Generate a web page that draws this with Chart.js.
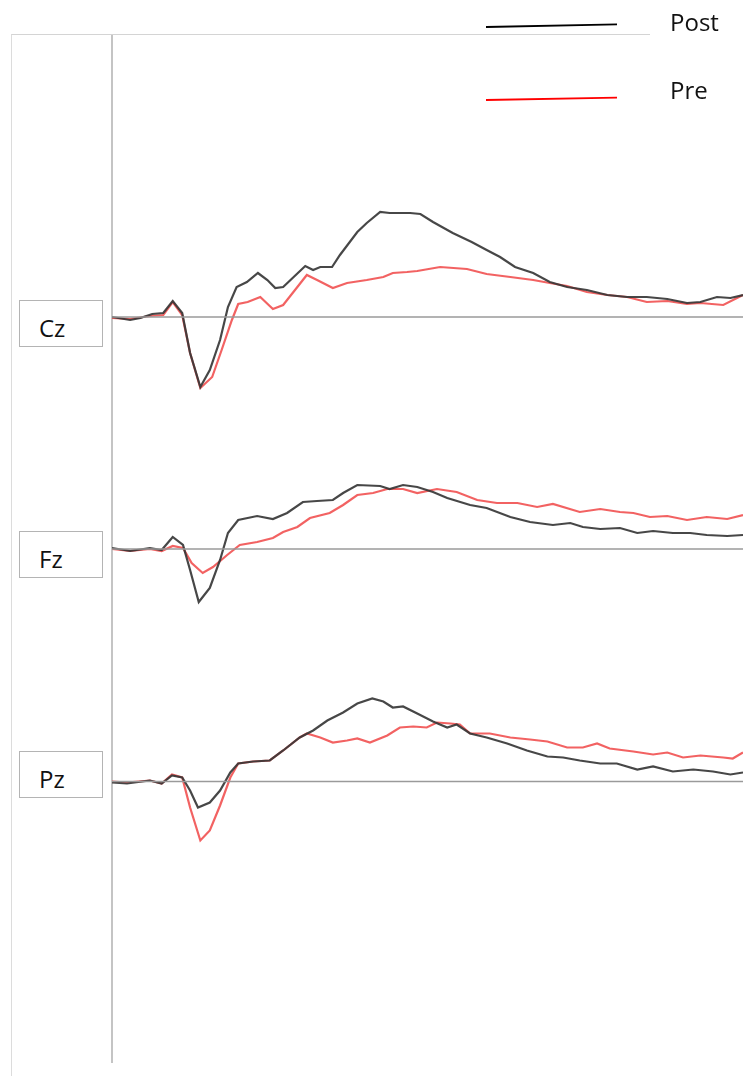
<!DOCTYPE html>
<html>
<head>
<meta charset="utf-8">
<script src="https://cdn.jsdelivr.net/npm/chart.js@4"></script>
<style>
  body { margin: 0; background: #fff; font-family: 'Open Sans', sans-serif; }
  #wrap { position: relative; width: 743px; height: 1076px; overflow: hidden; }
  #erp { position: absolute; left: 0; top: 0; }
  .frame { position: absolute; left: 11px; top: 34px; width: 638px; height: 1060px;
           border-top: 1.5px solid #d4d4d4; border-left: 1.5px solid #dcdcdc; }
  .chan { position: absolute; left: 19px; width: 84px; height: 47px; box-sizing: border-box;
          border: 1.5px solid #b4b4b4; background: #fff; font-size: 24px; line-height: 32px;
          padding: 11px 0 0 19px; color: #111; }
  .leg { position: absolute; left: 670px; font-size: 24px; line-height: 32px; color: #111; }
  #legLines { position: absolute; left: 0; top: 0; }
</style>
</head>
<body>
<div id="wrap">
  <div class="frame"></div>
  <canvas id="erp" width="743" height="1076"></canvas>
  <svg id="legLines" width="743" height="120">
    <line x1="486" y1="27" x2="617" y2="24.3" stroke="#000" stroke-width="1.8"/>
    <line x1="486" y1="100" x2="617" y2="97.7" stroke="#ff0000" stroke-width="1.8"/>
  </svg>
  <div class="leg" style="top:6px">Post</div>
  <div class="leg" style="top:74px">Pre</div>
  <div class="chan" style="top:300px">Cz</div>
  <div class="chan" style="top:531px">Fz</div>
  <div class="chan" style="top:751px">Pz</div>
</div>
<script>
// ERP grand averages, [time ms, amplitude µV]
const czPost = [[-100,0.0],[-77,-0.3],[-64,-0.1],[-49,0.3],[-35,0.4],[-23,1.6],[-11,0.4],[-1,-3.6],[12,-7.0],[24,-5.3],[37,-2.3],[47,1.0],[58,3.0],[71,3.5],[85,4.4],[97,3.7],[107,2.9],[117,3.0],[129,3.9],[145,5.1],[155,4.7],[164,5.0],[179,5.0],[189,6.2],[211,8.5],[223,9.4],[240,10.5],[252,10.4],[278,10.4],[291,10.3],[307,9.5],[332,8.4],[356,7.5],[375,6.7],[392,6.0],[411,5.0],[434,4.4],[455,3.5],[477,3.0],[502,2.7],[528,2.2],[553,2.0],[578,2.0],[604,1.8],[629,1.4],[646,1.5],[667,2.0],[684,1.9],[700,2.2]];
const czPre = [[-100,-0.1],[-77,-0.2],[-52,0.1],[-35,0.2],[-23,1.5],[-11,0.2],[-1,-3.6],[12,-7.1],[27,-6.0],[39,-3.3],[52,-0.3],[60,1.3],[72,1.5],[88,2.0],[104,0.8],[117,1.2],[135,3.0],[147,4.2],[160,3.7],[180,2.9],[198,3.4],[223,3.7],[244,4.0],[256,4.4],[274,4.5],[287,4.6],[316,5.0],[350,4.8],[375,4.3],[405,4.0],[434,3.7],[455,3.4],[477,3.1],[502,2.5],[528,2.2],[553,2.0],[578,1.5],[604,1.6],[629,1.3],[646,1.4],[675,1.2],[700,2.2]];
const fzPost = [[-100,0.1],[-77,-0.2],[-52,0.1],[-37,-0.1],[-23,1.2],[-10,0.4],[-1,-2.1],[10,-5.3],[24,-3.9],[37,-1.1],[47,1.6],[60,2.9],[84,3.3],[104,3.0],[122,3.6],[142,4.7],[160,4.8],[180,4.9],[193,5.6],[211,6.4],[240,6.3],[252,6.0],[269,6.4],[287,6.2],[307,5.7],[325,5.1],[354,4.4],[375,4.1],[405,3.2],[430,2.7],[459,2.4],[481,2.6],[497,2.2],[519,2.0],[544,2.1],[566,1.6],[586,1.8],[611,1.6],[633,1.6],[654,1.4],[680,1.3],[700,1.4]];
const fzPre = [[-100,0.0],[-77,-0.2],[-52,0.0],[-37,-0.2],[-23,0.3],[-10,0.1],[1,-1.4],[15,-2.4],[28,-1.8],[46,-0.6],[62,0.4],[84,0.7],[104,1.1],[117,1.7],[135,2.2],[151,3.1],[176,3.6],[193,4.4],[211,5.4],[231,5.6],[249,6.0],[269,6.0],[287,5.6],[312,6.0],[337,5.7],[363,4.9],[388,4.6],[414,4.6],[439,4.2],[459,4.5],[493,3.7],[519,4.0],[544,3.7],[561,3.6],[582,3.2],[604,3.3],[629,2.9],[654,3.2],[680,3.0],[700,3.4]];
const pzPost = [[-100,-0.1],[-81,-0.2],[-52,0.1],[-37,-0.2],[-24,0.6],[-11,0.4],[-1,-0.9],[9,-2.6],[24,-2.1],[37,-0.9],[50,0.9],[60,1.8],[79,2.0],[100,2.1],[117,3.1],[138,4.4],[155,5.1],[173,6.1],[193,6.9],[211,7.8],[230,8.3],[244,8.0],[256,7.4],[269,7.5],[287,6.8],[307,6.0],[325,5.4],[337,5.7],[354,4.8],[375,4.4],[401,3.8],[426,3.1],[452,2.5],[472,2.4],[493,2.1],[519,1.8],[540,1.8],[566,1.2],[586,1.5],[611,1.0],[637,1.2],[662,1.0],[684,0.7],[700,0.9]];
const pzPre = [[-100,0.0],[-81,-0.1],[-52,0.1],[-37,-0.2],[-24,0.7],[-11,0.4],[-1,-2.6],[12,-5.9],[24,-4.9],[37,-2.4],[50,0.4],[60,1.8],[79,2.0],[100,2.1],[117,3.1],[138,4.4],[147,4.8],[164,4.4],[180,3.9],[198,4.1],[211,4.3],[227,3.9],[249,4.6],[265,5.4],[282,5.5],[299,5.4],[312,5.9],[329,5.8],[341,5.7],[354,4.8],[379,4.8],[405,4.4],[430,4.2],[452,4.0],[477,3.4],[497,3.4],[515,3.8],[531,3.3],[561,3.0],[586,2.7],[604,2.9],[624,2.4],[646,2.6],[675,2.4],[687,2.3],[700,2.9]];

const channels = ['Cz', 'Fz', 'Pz'];
const epoch = [-100, 700];

// vertical spacing of the stacked channels (µV units on the shared axis)
const offsets = { Cz: -31.7, Fz: -54.9, Pz: -78.15 };
const series = { Cz: [czPost, czPre], Fz: [fzPost, fzPre], Pz: [pzPost, pzPre] };

const datasets = [];
channels.forEach(ch => {
    const off = offsets[ch];
    datasets.push({
        label: ch + ' baseline',
        data: epoch.map(t => ({ x: t, y: off })),
        borderColor: '#9a9a9a', borderWidth: 1.5
    });
    datasets.push({
        label: 'Post',
        data: series[ch][0].map(p => ({ x: p[0], y: p[1] + off })),
        borderColor: 'rgba(55,55,55,0.92)', borderWidth: 2.2
    });
    datasets.push({
        label: 'Pre',
        data: series[ch][1].map(p => ({ x: p[0], y: p[1] + off })),
        borderColor: 'rgba(240,70,70,0.85)', borderWidth: 2.2
    });
});

// y axis line at epoch start
const axisLine = {
    id: 'axisLine',
    beforeDatasetsDraw(chart) {
        const c = chart.ctx;
        const x = chart.scales.x.getPixelForValue(epoch[0]);
        c.save();
        c.strokeStyle = '#c4c4c4';
        c.lineWidth = 2;
        c.beginPath();
        c.moveTo(x, 35);
        c.lineTo(x, 1063);
        c.stroke();
        c.restore();
    }
};

const ctx = document.getElementById('erp').getContext('2d');
new Chart(ctx, {
    type: 'line',
    data: { datasets: datasets },
    options: {
        responsive: false,
        animation: false,
        layout: { padding: { left: 112, right: 0, top: 0, bottom: 0 } },
        elements: { point: { radius: 0 }, line: { tension: 0 } },
        scales: {
            x: { type: 'linear', min: epoch[0], max: epoch[1], display: false },
            y: { min: -107.6, max: 0, display: false }
        },
        plugins: { legend: { display: false }, tooltip: { enabled: false } }
    },
    plugins: [axisLine]
});
</script>
</body>
</html>
